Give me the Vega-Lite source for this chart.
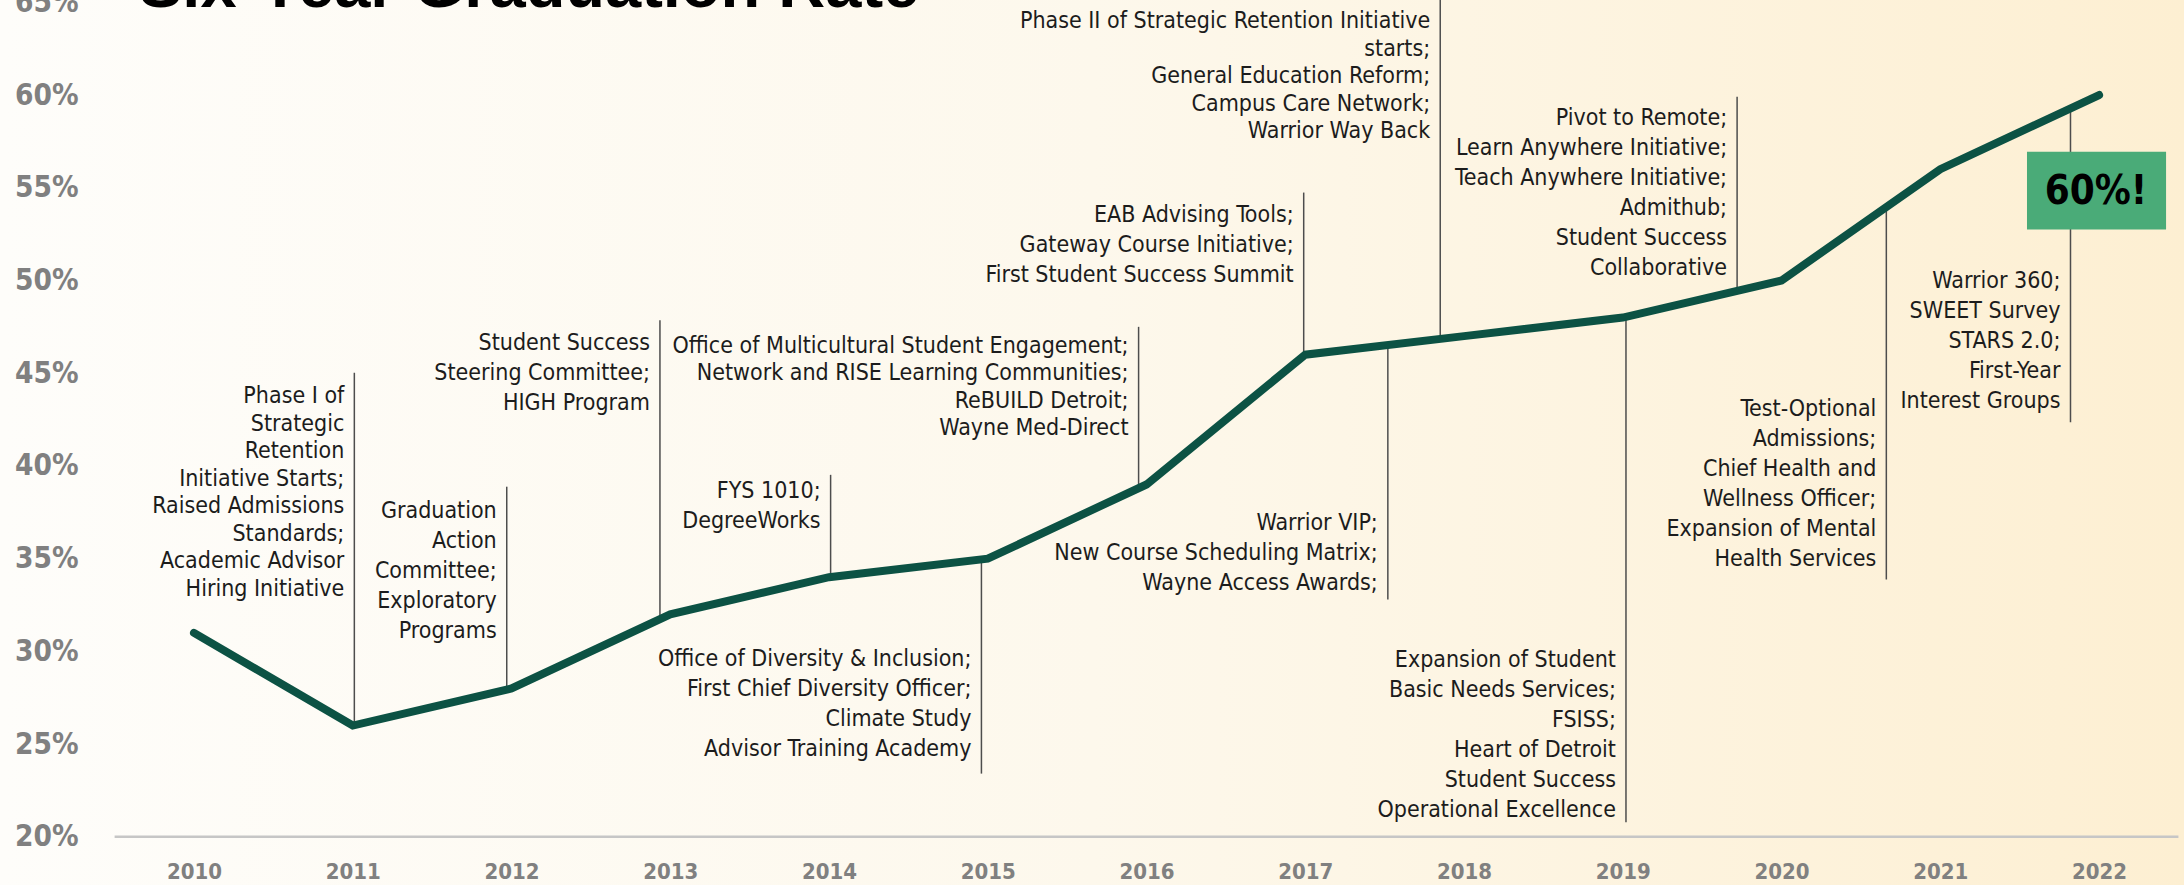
{
  "$schema": "https://vega.github.io/schema/vega-lite/v6.json",
  "width": 2184,
  "height": 885,
  "autosize": {"type": "none"},
  "padding": 0,
  "background": "#fdfaf3",
  "config": {
    "view": {
      "stroke": null,
      "fill": {
        "gradient": "linear",
        "x1": 0, "y1": 0, "x2": 1, "y2": 0,
        "stops": [
          {"offset": 0, "color": "#fefdfa"},
          {"offset": 0.5, "color": "#fdf8ec"},
          {"offset": 1, "color": "#fdefd2"}
        ]
      }
    }
  },
  "title": {
    "text": "Six-Year Graduation Rate",
    "anchor": "start",
    "frame": "group",
    "orient": "top",
    "offset": 0,
    "dx": 139,
    "dy": 89.5,
    "baseline": "alphabetic",
    "font": "Liberation Sans",
    "fontSize": 65,
    "fontWeight": "bold",
    "color": "#000000"
  },
  "datasets": {
    "line": [
      {"year": 2010, "rate": 31},
      {"year": 2011, "rate": 26},
      {"year": 2012, "rate": 28},
      {"year": 2013, "rate": 32},
      {"year": 2014, "rate": 34},
      {"year": 2015, "rate": 35},
      {"year": 2016, "rate": 39},
      {"year": 2017, "rate": 46},
      {"year": 2018, "rate": 47},
      {"year": 2019, "rate": 48},
      {"year": 2020, "rate": 50},
      {"year": 2021, "rate": 56},
      {"year": 2022, "rate": 60}
    ],
    "notesA": [
      {"at": 2011.97, "hi": 38.88, "lo": 27.95, "ty": 37.2, "note": "Graduation\nAction\nCommittee;\nExploratory\nPrograms"},
      {"at": 2012.935, "hi": 47.85, "lo": 31.74, "ty": 46.26, "note": "Student Success\nSteering Committee;\nHIGH Program"},
      {"at": 2014.01, "hi": 39.52, "lo": 34.0, "ty": 38.27, "note": "FYS 1010;\nDegreeWorks"},
      {"at": 2014.96, "hi": 34.96, "lo": 23.41, "ty": 29.21, "note": "Office of Diversity & Inclusion;\nFirst Chief Diversity Officer;\nClimate Study\nAdvisor Training Academy"},
      {"at": 2016.99, "hi": 54.74, "lo": 45.93, "ty": 53.15, "note": "EAB Advising Tools;\nGateway Course Initiative;\nFirst Student Success Summit"},
      {"at": 2017.52, "hi": 46.52, "lo": 32.8, "ty": 36.55, "note": "Warrior VIP;\nNew Course Scheduling Matrix;\nWayne Access Awards;"},
      {"at": 2019.02, "hi": 48.04, "lo": 20.79, "ty": 29.15, "note": "Expansion of Student\nBasic Needs Services;\nFSISS;\nHeart of Detroit\nStudent Success\nOperational Excellence"},
      {"at": 2019.72, "hi": 59.9, "lo": 49.44, "ty": 58.4, "note": "Pivot to Remote;\nLearn Anywhere Initiative;\nTeach Anywhere Initiative;\nAdmithub;\nStudent Success\nCollaborative"},
      {"at": 2020.66, "hi": 53.96, "lo": 33.87, "ty": 42.68, "note": "Test-Optional\nAdmissions;\nChief Health and\nWellness Officer;\nExpansion of Mental\nHealth Services"},
      {"at": 2021.82, "hi": 59.28, "lo": 42.35, "ty": 49.62, "note": "Warrior 360;\nSWEET Survey\nSTARS 2.0;\nFirst-Year\nInterest Groups"}
    ],
    "notesB": [
      {"at": 2011.01, "hi": 45.03, "lo": 26.0, "ty": 43.37, "note": "Phase I of\nStrategic\nRetention\nInitiative Starts;\nRaised Admissions\nStandards;\nAcademic Advisor\nHiring Initiative"},
      {"at": 2015.95, "hi": 47.5, "lo": 38.8, "ty": 46.1, "note": "Office of Multicultural Student Engagement;\nNetwork and RISE Learning Communities;\nReBUILD Detroit;\nWayne Med-Direct"},
      {"at": 2017.85, "hi": 66, "lo": 46.85, "ty": 63.6, "note": "Phase II of Strategic Retention Initiative\nstarts;\nGeneral Education Reform;\nCampus Care Network;\nWarrior Way Back"}
    ],
    "baseline": [
      {"from": 2009.5, "to": 2022.5, "level": 20}
    ],
    "badge": [
      {"x1": 2021.546, "x2": 2022.422, "y1": 52.75, "y2": 56.94, "cx": 2021.98, "cy": 54.79, "label": "60%!"}
    ]
  },
  "layer": [
    {
      "data": {"name": "baseline"},
      "mark": {"type": "rule", "color": "#c6c6c6", "strokeWidth": 2.5},
      "encoding": {
        "x": {"field": "from", "type": "quantitative", "title": null},
        "x2": {"field": "to"},
        "y": {"field": "level", "type": "quantitative", "title": null}
      }
    },
    {
      "data": {"name": "notesA"},
      "mark": {"type": "rule", "color": "#4d4d4d", "strokeWidth": 1.5},
      "encoding": {
        "x": {"field": "at", "type": "quantitative", "title": null},
        "y": {"field": "hi", "type": "quantitative", "title": null},
        "y2": {"field": "lo"}
      }
    },
    {
      "data": {"name": "notesB"},
      "mark": {"type": "rule", "color": "#4d4d4d", "strokeWidth": 1.5},
      "encoding": {
        "x": {"field": "at", "type": "quantitative", "title": null},
        "y": {"field": "hi", "type": "quantitative", "title": null},
        "y2": {"field": "lo"}
      }
    },
    {
      "data": {"name": "line"},
      "mark": {"type": "line", "color": "#0c5244", "strokeWidth": 8, "strokeCap": "round"},
      "encoding": {
        "x": {
          "field": "year", "type": "quantitative", "title": null,
          "scale": {"domain": [2008.778, 2022.535], "nice": false, "zero": false},
          "axis": {
            "orient": "bottom", "offset": -48.4,
            "values": [2010, 2011, 2012, 2013, 2014, 2015, 2016, 2017, 2018, 2019, 2020, 2021, 2022],
            "format": "d", "domain": false, "ticks": false, "tickSize": 0, "grid": false,
            "labelFont": "DejaVu Sans Condensed", "labelFontSize": 22, "labelFontWeight": "bold",
            "labelColor": "#808080", "labelPadding": 25, "labelFlush": false, "labelOverlap": false
          }
        },
        "y": {
          "field": "rate", "type": "quantitative", "title": null,
          "scale": {"domain": [17.404, 65.123], "nice": false, "zero": false},
          "axis": {
            "orient": "left", "offset": -78,
            "values": [20, 25, 30, 35, 40, 45, 50, 55, 60, 65],
            "labelExpr": "datum.value + '%'",
            "domain": false, "ticks": false, "tickSize": 0, "grid": false,
            "labelFont": "DejaVu Sans Condensed", "labelFontSize": 29.5, "labelFontWeight": "bold",
            "labelColor": "#808080", "labelPadding": 0, "labelFlush": false, "labelOverlap": false
          }
        }
      }
    },
    {
      "data": {"name": "notesA"},
      "mark": {"type": "text", "align": "right", "baseline": "alphabetic", "dx": -10, "font": "DejaVu Sans Condensed", "fontSize": 23, "lineHeight": 30, "lineBreak": "\n", "color": "#1c1c1c"},
      "encoding": {
        "x": {"field": "at", "type": "quantitative", "title": null},
        "y": {"field": "ty", "type": "quantitative", "title": null},
        "text": {"field": "note"}
      }
    },
    {
      "data": {"name": "notesB"},
      "mark": {"type": "text", "align": "right", "baseline": "alphabetic", "dx": -10, "font": "DejaVu Sans Condensed", "fontSize": 23, "lineHeight": 27.5, "lineBreak": "\n", "color": "#1c1c1c"},
      "encoding": {
        "x": {"field": "at", "type": "quantitative", "title": null},
        "y": {"field": "ty", "type": "quantitative", "title": null},
        "text": {"field": "note"}
      }
    },
    {
      "data": {"name": "badge"},
      "mark": {"type": "rect", "color": "#4aab78"},
      "encoding": {
        "x": {"field": "x1", "type": "quantitative", "title": null},
        "x2": {"field": "x2"},
        "y": {"field": "y1", "type": "quantitative", "title": null},
        "y2": {"field": "y2"}
      }
    },
    {
      "data": {"name": "badge"},
      "mark": {"type": "text", "align": "center", "baseline": "middle", "font": "DejaVu Sans Condensed", "fontSize": 40, "fontWeight": "bold", "color": "#000000"},
      "encoding": {
        "x": {"field": "cx", "type": "quantitative", "title": null},
        "y": {"field": "cy", "type": "quantitative", "title": null},
        "text": {"field": "label"}
      }
    }
  ]
}
